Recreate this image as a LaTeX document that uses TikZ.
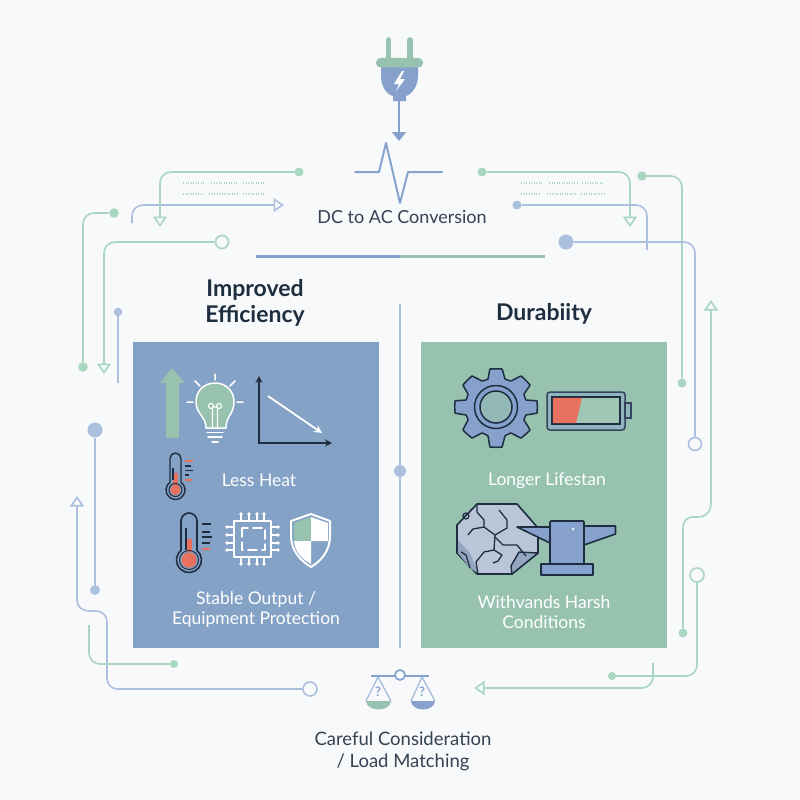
\documentclass[tikz,border=0pt]{standalone}
\usepackage{fontspec}
\setmainfont{Lato}
\usetikzlibrary{arrows.meta,calc}
\definecolor{bgc}{HTML}{F8F9FA}
\definecolor{lblue}{HTML}{ABC0DE}
\definecolor{lgreen}{HTML}{A9D6C0}
\definecolor{pblue}{HTML}{84A1C6}
\definecolor{pgreen}{HTML}{98C2B0}
\definecolor{darkc}{HTML}{1E2D40}
\definecolor{redc}{HTML}{E8705F}
\definecolor{midblue}{HTML}{86A2CC}
\definecolor{stone}{HTML}{BAC6D8}
\definecolor{stonedk}{HTML}{93A6C0}
\tikzset{
  gline/.style={draw=lgreen,line width=1.6pt,rounded corners=11pt},
  bline/.style={draw=lblue,line width=1.6pt,rounded corners=11pt},
  gopen/.style={-{Triangle[open,length=10.5pt,width=14pt,line width=1.6pt]}},
  gdot/.style={circle,fill=lgreen,inner sep=0pt,minimum size=#1},
  bdot/.style={circle,fill=lblue,inner sep=0pt,minimum size=#1},
  gring/.style={circle,draw=lgreen,fill=bgc,line width=1.6pt,inner sep=0pt,minimum size=13pt},
  bring/.style={circle,draw=lblue,fill=bgc,line width=1.6pt,inner sep=0pt,minimum size=13pt},
  ttl/.style={text=darkc,font=\fontsize{23}{26}\selectfont\bfseries,align=center},
  capt/.style={text=white,font=\fontsize{17.5}{20}\selectfont,align=center},
  nt/.style={text=darkc!90,font=\fontsize{18.5}{22}\selectfont,align=center},
  dk/.style={draw=darkc,line width=1.6pt,line join=round},
  wh/.style={draw=white,line width=1.5pt,line cap=round,line join=round},
  tk/.style={line width=1.5pt,draw=darkc},
  redtk/.style={line width=1.5pt,draw=redc},
  dotrow/.style={draw=lgreen,line width=1.3pt,dash pattern=on 1.2pt off 1.3pt},
}
\begin{document}
\begin{tikzpicture}[x=1pt,y=-1pt]
\fill[bgc] (0,0) rectangle (800,800);
\useasboundingbox (0,0) rectangle (800,800);

% ---- plug
\draw[draw=pgreen,line width=5.5pt,line cap=round] (388.7,40) -- (388.7,60) (410,40) -- (410,60);
\fill[midblue] (381,64) -- (418,64) -- (418,76) .. controls (418,88) and (410,95) .. (406,96) -- (406,101) -- (393,101) -- (393,96) .. controls (388,95) and (381,88) .. (381,76) -- cycle;
\fill[pgreen,rounded corners=4.5pt] (376,58) rectangle (423,67.5);
\fill[white] (402,71) -- (394,84) -- (399,84) -- (396,91) -- (405,79) -- (400,79) -- (404,71) -- cycle;
\coordinate (plugout) at (399,101);
\coordinate (plugtip) at (399,141);
\draw[midblue,line width=2.4pt,-{Triangle[length=9pt,width=14pt]}] (plugout) -- (plugtip);

% ---- pulse
\draw[midblue,line width=2pt,line join=round,line cap=round] (355,172) -- (379,172) -- (386,143) -- (400,203) -- (408,172) -- (442,172);
\node[nt,font=\fontsize{18}{20}\selectfont] (dcac) at (402,217) {DC to AC Conversion};

% ---- separator bar
\fill[midblue] (256,254.5) rectangle (400,258);
\fill[pgreen] (400,254.5) rectangle (545,258);

% ---- small dotted lines
\draw[dotrow] (183,183) -- (205,183) (211,183) -- (238,183) (243,183) -- (265,183);
\draw[dotrow] (183,194) -- (203,194) (209,194) -- (238,194) (243,194) -- (265,194);
\draw[dotrow] (521,183) -- (543,183) (549,183) -- (577,183) (582,183) -- (604,183);
\draw[dotrow] (521,194) -- (541,194) (547,194) -- (576,194) (581,194) -- (604,194);

% ---- connectors upper left
\coordinate (c2s) at (132,223);
\coordinate (c2t) at (284,205);
\draw[bline,gopen] (c2s) |- (c2t);
\node[gdot=9pt] (c1a) at (299,172) {};
\coordinate (c1t) at (160,227);
\draw[gline,gopen] (c1a) -| (c1t);
\node[gdot=9.5pt] (c3a) at (114,213) {};
\node[gdot=9.5pt] (c3b) at (83,367) {};
\draw[gline] (c3a) -| (c3b);
\node[gring] (c4a) at (222,242) {};
\coordinate (c4t) at (104,374);
\draw[gline,gopen] (c4a) -| (c4t);
\node[bdot=8.5pt] (c5a) at (118,312) {};
\coordinate (c5b) at (118,383);
\draw[bline] (c5a) -- (c5b);

% ---- connectors upper right
\node[gdot=9pt] (c6a) at (482,172) {};
\coordinate (c6t) at (630,227);
\draw[gline,gopen] (c6a) -| (c6t);
\node[bdot=9pt] (c7a) at (517,205) {};
\coordinate (c7b) at (647,250);
\draw[bline] (c7a) -| (c7b);
\node[gdot=9.5pt] (c8a) at (642,176) {};
\node[gdot=9pt] (c8b) at (682,383) {};
\draw[gline] (c8a) -| (c8b);
\node[bdot=15pt] (c9a) at (566,242) {};
\node[bring] (c9b) at (695,444) {};
\draw[bline] (c9a) -| (c9b);

% ---- right side
\coordinate (c10t) at (711,300);
\node[gdot=9pt] (c10b) at (683,633) {};
\draw[draw=lgreen,line width=1.6pt,{Triangle[open,length=10.5pt,width=14pt,line width=1.6pt]}-] (c10t) -- (711,502) .. controls (711,512) and (706,517) .. (698,517) -- (693,517) .. controls (687,517) and (683,521) .. (683,528) -- (c10b);
\node[gring,minimum size=14pt] (c11a) at (697,575) {};
\node[gdot=8pt] (c11b) at (612,676) {};
\draw[gline] (c11a) |- (c11b);
\coordinate (c12s) at (653,663);
\coordinate (c12t) at (474,688);
\draw[gline,gopen] (c12s) |- (c12t);

% ---- left side
\node[bdot=15pt] (c13a) at (95,430) {};
\node[bdot=10pt] (c13b) at (95,590) {};
\draw[bline] (c13a) -- (c13b);
\coordinate (c14t) at (77,496);
\node[bring,minimum size=14pt] (c14b) at (310,689) {};
\draw[draw=lblue,line width=1.6pt,{Triangle[open,length=10.5pt,width=14pt,line width=1.6pt]}-] (c14t) -- (77,600) .. controls (77,607) and (82,611) .. (90,611) -- (95,611) .. controls (102,611) and (107,615) .. (107,622) -- (107,677) .. controls (107,685) and (111,689) .. (119,689) -- (c14b);
\coordinate (c15s) at (89,625);
\node[gdot=8pt] (c15b) at (174,664) {};
\draw[gline] (c15s) |- (c15b);

% ---- titles
\node[ttl] (timp) at (255,303) {Improved\\Efficiency};
\node[ttl] (tdur) at (544,314) {Durabiity};

% ---- panels
\fill[pblue] (133,342) rectangle (379,648);
\fill[pgreen] (421,342) rectangle (667,648);

% ---- divider
\coordinate (divtop) at (400,304);
\coordinate (divbot) at (400,648);
\draw[lblue,line width=2pt] (divtop) -- (divbot);
\node[bdot=12pt] (divdot) at (400,471) {};

% ---- green up arrow
\fill[pgreen] (172,368) -- (185,383) -- (179,383) -- (179,438) -- (166,438) -- (166,383) -- (160,383) -- cycle;

% ---- bulb
\draw[wh,fill=pgreen] (206,428) .. controls (206,416) and (196,414) .. (196,402) .. controls (196,391) and (204,383) .. (215,383) .. controls (226,383) and (234,391) .. (234,402) .. controls (234,414) and (226,416) .. (226,428) -- cycle;
\draw[wh,line width=1.1pt] (212.5,428) -- (212.5,407) (217.5,428) -- (217.5,407) (211,406) circle[radius=2.6] (219,406) circle[radius=2.6] (213,407) -- (217,407);
\draw[wh] (207,432.5) -- (223,432.5) (208,437) -- (222,437) (212,442) -- (218,442);
\draw[wh] (215,374) -- (215,380) (195,381) -- (200,386) (235,381) -- (230,386) (187,402) -- (193,402) (237,402) -- (243,402);

% ---- chart
\draw[darkc,line width=1.7pt,{Stealth[length=7pt,width=7pt]}-{Stealth[length=7pt,width=7pt]}] (259,376) -- (259,443) -- (332,443);
\draw[white,line width=1.8pt,-{Stealth[length=8pt,width=8pt]}] (268,396) -- (322,433);

% ---- small thermometer
\fill[redc] (173.2,473) rectangle (177.8,486);
\draw[dk,line width=1.3pt] (173,468) -- (173,480);
\draw[dk,line width=1.4pt] (170,482.25) -- (170,458.5) arc[start angle=180,end angle=360,radius=5.5] -- (181,482.25) arc[start angle=-54.6,end angle=234.6,radius=9.5];
\fill[redc] (175.5,490) circle[radius=5];
\draw[darkc,line width=1pt] (175.5,490) circle[radius=6.5];
\draw[redtk] (185,461) -- (193,461) (185,480) -- (192,480);
\draw[tk] (185,466) -- (191,466) (185,470.5) -- (193,470.5) (185,475) -- (189,475);
\node[capt] (lh) at (259,480) {Less Heat};

% ---- big thermometer
\fill[redc] (187,539) rectangle (192,552);
\draw[dk,line width=1.3pt] (186,528) -- (186,550);
\draw[dk] (181,550.4) -- (181,521) arc[start angle=180,end angle=360,radius=8] -- (197,550.4) arc[start angle=-50.2,end angle=230.2,radius=12.5];
\fill[redc] (189,560) circle[radius=7.5];
\draw[darkc,line width=1pt] (189,560) circle[radius=9.5];
\draw[tk] (202,524) -- (211,524) (202,532) -- (210,532) (202,537) -- (212,537) (202,543) -- (210,543);
\draw[redtk] (202,549) -- (210,549);

% ---- chip
\draw[wh] (234,521) rectangle (271,557);
\draw[wh,dash pattern=on 9pt off 5pt] (242,528) rectangle (265,550);
\foreach \p in {241,249,257,264}{
  \draw[wh,line width=1.3pt] (\p,521) -- (\p,515);
  \fill[white] (\p,514) circle[radius=1.8];
  \draw[wh,line width=1.3pt] (\p,557) -- (\p,563);
  \fill[white] (\p,564) circle[radius=1.8];
}
\foreach \p in {527,535,543,550}{
  \draw[wh,line width=1.3pt] (234,\p) -- (228,\p);
  \fill[white] (227,\p) circle[radius=1.8];
  \draw[wh,line width=1.3pt] (271,\p) -- (277,\p);
  \fill[white] (278,\p) circle[radius=1.8];
}

% ---- shield
\fill[pgreen] (294,523) -- (311,517) -- (311,541) -- (294,541) -- cycle;
\fill[white] (311,517) -- (328,523) -- (328,541) -- (311,541) -- cycle;
\fill[white] (294,541) .. controls (295,552) and (302,559) .. (311,564) -- (311,541) -- cycle;
\draw[wh,line width=2pt] (311,514) -- (330,521) -- (330,536) .. controls (330,551) and (321,561) .. (311,567) .. controls (301,561) and (291,551) .. (291,536) -- (291,521) -- cycle;
\node[capt] (so) at (256,609.5) {Stable Output /\\Equipment Protection};

% ---- gear
\fill[midblue,draw=darkc,line width=1.5pt,line join=round]
  plot[smooth cycle,tension=0.12] coordinates {
   (490,369)(502,369)(505,379)(511,381)(521,376)(530,385)(524,394)(526,400)(537,401)(537,413)(526,415)(524,420)(530,430)(521,438)(511,433)(505,436)(502,447)(490,447)(488,436)(482,433)(472,438)(463,430)(468,420)(466,415)(455,413)(455,401)(466,400)(468,394)(463,385)(472,376)(482,381)(488,379)};
\draw[darkc,line width=1.5pt] (496,407) circle[radius=21.5];
\draw[darkc,line width=1.5pt,fill=pgreen!70!midblue] (496,407) circle[radius=16];

% ---- battery
\draw[darkc!80!midblue,line width=1.5pt,fill=midblue!45!pgreen,rounded corners=3pt] (547,392) rectangle (625,430);
\draw[darkc!80!midblue,line width=1.2pt,fill=midblue!45!pgreen] (625,403) rectangle (631,418);
\draw[darkc,line width=1.5pt,fill=pgreen!92!white] (552,397) rectangle (620,424);
\fill[redc] (552.8,397.8) -- (582,397.8) -- (576,423.2) -- (552.8,423.2) -- cycle;
\node[capt] (ll) at (547,481) {Longer Lifestan};

% ---- rock
\draw[dk,fill=stone] (477,504) -- (517,504) -- (538,528) -- (538,553) -- (512,574) -- (477,574) -- (457,553) -- (457,525) -- cycle;
\fill[stonedk,draw=darkc,line width=1.4pt,line join=round] (538,553) -- (512,574) -- (511,566) -- (519,552) -- cycle;
\fill[stonedk] (458,540) -- (470,553) -- (478,573) -- (470,568) -- (458,553) -- cycle;
\draw[dk,line width=1.3pt] (477,504) -- (477,512) -- (484,520) -- (484,527) -- (495,535) -- (494,550) -- (502,555) -- (498,561) -- (493,563);
\draw[dk,line width=1.3pt] (495,535) -- (507,528) -- (507,520) -- (499,510);
\draw[dk,line width=1.3pt] (484,527) -- (473,529) -- (468,535);
\draw[dk,line width=1.3pt] (495,537) -- (503,545) -- (517,545) -- (526,556);
\draw[dk,line width=1.3pt] (494,550) -- (484,552) -- (476,562) -- (478,574);
\draw[dk,line width=1.3pt] (470,568) -- (466,555) -- (461,552);
\draw[dk,line width=1.2pt] (466,516) circle[radius=3];

% ---- anvil
\draw[dk,fill=midblue] (517,527) -- (550,527) -- (550,543) -- cycle;
\draw[dk,fill=midblue] (584,526) -- (615.5,526) -- (615.5,534) -- (584,545) -- cycle;
\draw[dk,fill=midblue,rounded corners=1pt] (550,521) rectangle (584,564);
\draw[dk,fill=midblue] (541,564) rectangle (593,575);
\fill[white!85!pgreen] (573,529) circle[radius=1.5];
\node[capt] (wh) at (544,612) {Withvands Harsh\\Conditions};

% ---- scales
\draw[lblue!80!midblue,line width=1.3pt,line join=round] (366,701) -- (378,677) -- (391,701) (411,701) -- (422,677) -- (435,701);
\fill[pgreen] (366,701) -- (391,701) arc[start angle=0,end angle=180,x radius=12.5,y radius=8.5] -- cycle;
\fill[midblue] (411,701) -- (435,701) arc[start angle=0,end angle=180,x radius=12,y radius=8.5] -- cycle;
\draw[midblue,line width=2.2pt] (371,676) -- (429,676);
\node[circle,draw=midblue,fill=bgc,line width=1.6pt,inner sep=0pt,minimum size=10pt] (piv) at (400,675) {};
\node[text=midblue,font=\fontsize{13}{13}\selectfont\bfseries,inner sep=0pt] (q1) at (378,692) {?};
\node[text=midblue,font=\fontsize{13}{13}\selectfont\bfseries,inner sep=0pt] (q2) at (422,692) {?};
\node[nt] (cc) at (403,751.5) {Careful Consideration\\/ Load Matching};
\end{tikzpicture}
\end{document}
